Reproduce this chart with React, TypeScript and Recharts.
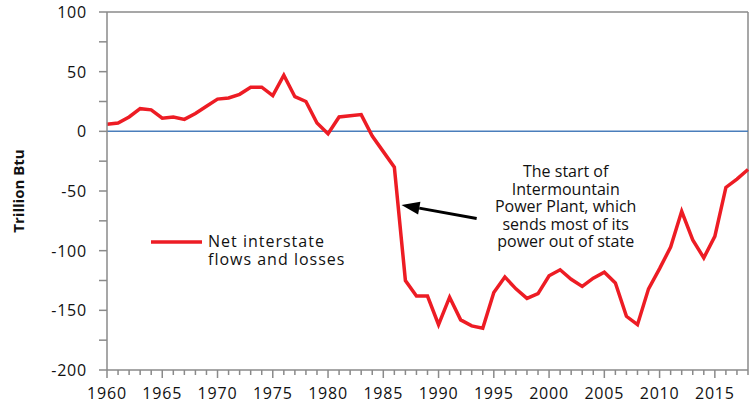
import { LineChart, Line, XAxis, YAxis, ReferenceLine } from "recharts";

const years = [
  1960, 1961, 1962, 1963, 1964, 1965, 1966, 1967, 1968, 1969,
  1970, 1971, 1972, 1973, 1974, 1975, 1976, 1977, 1978, 1979,
  1980, 1981, 1982, 1983, 1984, 1985, 1986, 1987, 1988, 1989,
  1990, 1991, 1992, 1993, 1994, 1995, 1996, 1997, 1998, 1999,
  2000, 2001, 2002, 2003, 2004, 2005, 2006, 2007, 2008, 2009,
  2010, 2011, 2012, 2013, 2014, 2015, 2016, 2017, 2018,
];

const netFlows = [
  6, 7, 12, 19, 18, 11, 12, 10, 15, 21,
  27, 28, 31, 37, 37, 30, 47, 29, 25, 7,
  -2, 12, 13, 14, -4, -17, -30, -125, -138, -138,
  -162, -139, -158, -163, -165, -135, -122, -132, -140, -136,
  -121, -116, -124, -130, -123, -118, -127, -155, -162, -132,
  -115, -97, -67, -91, -106, -88, -47, -40, -32,
];

const xLabels = [1960, 1965, 1970, 1975, 1980, 1985, 1990, 1995, 2000, 2005, 2010, 2015];
const yTicks = [100, 75, 50, 25, 0, -25, -50, -75, -100, -125, -150, -175, -200];
const yLabels = [100, 50, 0, -50, -100, -150, -200];

const noteLines = [
  "The start of",
  "Intermountain",
  "Power Plant, which",
  "sends most of its",
  "power out of state",
];

const data = years.map((year, i) => ({ year, flow: netFlows[i] }));

const axisGray = "#8a8a8a";
const font = "'Open Sans', sans-serif";

function XTick(props: any) {
  const { x, y, payload } = props;
  const major = xLabels.includes(payload.value);
  const axisY = y - 10;
  return (
    <g>
      <line x1={x} x2={x} y1={axisY} y2={axisY + (major ? 8 : 5)} stroke={axisGray} strokeWidth={1.5} />
      {major && (
        <text x={x} y={axisY + 29} textAnchor="middle" fontSize={16} letterSpacing={0.8} fill="#111" fontFamily={font}>
          {payload.value}
        </text>
      )}
    </g>
  );
}

function YTick(props: any) {
  const { x, y, payload } = props;
  const axisX = x + 20;
  return (
    <g>
      <line x1={axisX - 8} x2={axisX} y1={y} y2={y} stroke={axisGray} strokeWidth={1.5} />
      {yLabels.includes(payload.value) && (
        <text x={axisX - 20} y={y + 6} textAnchor="end" fontSize={16} letterSpacing={0.8} fill="#111" fontFamily={font}>
          {payload.value}
        </text>
      )}
    </g>
  );
}

function NoteArrow(props: any) {
  const { x1, y1, x2, y2 } = props;
  const dx = x2 - x1;
  const dy = y2 - y1;
  const len = Math.sqrt(dx * dx + dy * dy);
  const ux = dx / len;
  const uy = dy / len;
  const head = 18;
  const half = 6.5;
  const bx = x2 - ux * head;
  const by = y2 - uy * head;
  return (
    <g>
      <line x1={x1} y1={y1} x2={bx} y2={by} stroke="#000" strokeWidth={3} />
      <polygon
        points={`${x2},${y2} ${bx - uy * half},${by + ux * half} ${bx + uy * half},${by - ux * half}`}
        fill="#000"
      />
      <text textAnchor="middle" fontSize={16} fill="#111" fontFamily={font}>
        {noteLines.map((t, i) => (
          <tspan key={t} x={x1 + 89} y={y1 - 41 + i * 17.4}>
            {t}
          </tspan>
        ))}
      </text>
    </g>
  );
}

function LegendBox() {
  return (
    <div
      style={{
        position: "absolute",
        left: 151,
        top: 233,
        width: 220,
        height: 40,
        fontFamily: font,
        fontSize: 16,
        letterSpacing: 1,
        color: "#111",
      }}
    >
      <svg width={52} height={10} style={{ position: "absolute", left: 0, top: 4 }}>
        <line x1={0} x2={51} y1={5} y2={5} stroke="#ed1c24" strokeWidth={3.5} />
      </svg>
      <div style={{ position: "absolute", left: 57, top: 0, lineHeight: "17.5px" }}>
        Net interstate
        <br />
        flows and losses
      </div>
    </div>
  );
}

export default function App() {
  return (
    <div style={{ position: "absolute", left: 0, top: 0, width: 754, height: 406, background: "#fff" }}>
      <LineChart width={754} height={406} data={data} margin={{ top: 12, right: 6, bottom: 6, left: 47 }}>
        <XAxis
          dataKey="year"
          type="number"
          domain={[1960, 2018]}
          ticks={years}
          interval={0}
          tickSize={8}
          tickMargin={2}
          tickLine={false}
          tick={<XTick />}
          height={30}
          axisLine={{ stroke: axisGray, strokeWidth: 1.5 }}
        />
        <YAxis
          type="number"
          domain={[-200, 100]}
          ticks={yTicks}
          interval={0}
          tickSize={8}
          tickMargin={12}
          tickLine={false}
          tick={<YTick />}
          width={60}
          axisLine={{ stroke: axisGray, strokeWidth: 1.5 }}
          label={{
            value: "Trillion Btu",
            angle: -90,
            position: "insideLeft",
            dx: -33,
            dy: 0,
            style: { fontFamily: font, fontSize: 15, fontWeight: 700, fill: "#111", textAnchor: "middle" },
          }}
        />
        <ReferenceLine y={100} stroke={axisGray} strokeWidth={1.5} />
        <ReferenceLine x={2018} stroke={axisGray} strokeWidth={1.5} />
        <ReferenceLine y={0} stroke="#4a7ebb" strokeWidth={1.5} />
        <ReferenceLine
          segment={[
            { x: 1993.45, y: -73 },
            { x: 1986.65, y: -61.7 },
          ]}
          shape={<NoteArrow />}
        />
        <Line
          type="linear"
          dataKey="flow"
          name="Net interstate flows and losses"
          stroke="#ed1c24"
          strokeWidth={3.5}
          dot={false}
          isAnimationActive={false}
        />
      </LineChart>
      <LegendBox />
    </div>
  );
}
